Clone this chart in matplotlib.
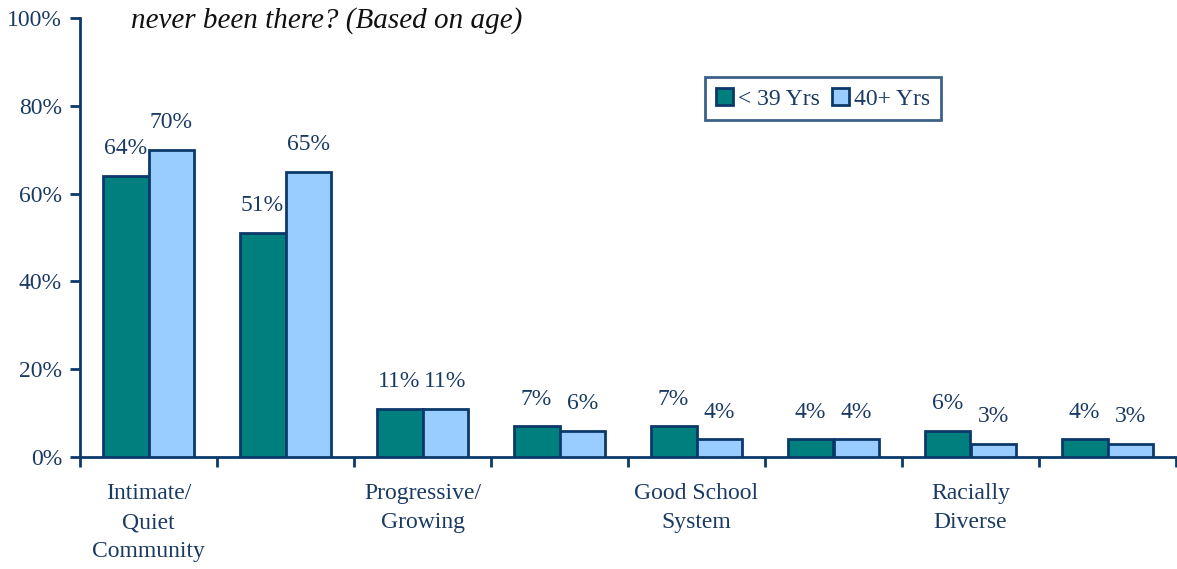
import matplotlib
matplotlib.use("Agg")
import matplotlib.pyplot as plt
import numpy as np

categories = ["Intimate/\nQuiet\nCommunity", "", "Progressive/\nGrowing", "",
              "Good School\nSystem", "", "Racially\nDiverse", ""]
young = [64, 51, 11, 7, 7, 4, 6, 4]
older = [70, 65, 11, 6, 4, 4, 3, 3]
series_names = ["< 39 Yrs", "40+ Yrs"]
yticks = [0, 20, 40, 60, 80, 100]
title = "never been there? (Based on age)"

navy = "#0B3A6A"
txt = "#1B3A63"
teal = "#007F7F"
light = "#99CCFF"

plt.rcParams['font.family'] = ['Liberation Serif', 'DejaVu Serif']

fig = plt.figure(figsize=(11.77, 5.69), dpi=100)
ax = fig.add_axes([80/1177, 1-457/569, 1096/1177, 439/569])

x = np.arange(len(categories))
w = 0.335
b1 = ax.bar(x - w/2, young, w, color=teal, edgecolor=navy, linewidth=2, label=series_names[0], zorder=3)
b2 = ax.bar(x + w/2, older, w, color=light, edgecolor=navy, linewidth=2, label=series_names[1], zorder=3)

for bars, vals in ((b1, young), (b2, older)):
    for r, v in zip(bars, vals):
        ax.annotate(f"{v}%", (r.get_x() + r.get_width()/2, r.get_height()),
                    xytext=(0, 12), textcoords="offset points", ha="center", va="bottom",
                    fontsize=17, color=txt)

ax.set_xlim(-0.5, len(categories) - 0.5)
ax.set_ylim(0, 100)
ax.set_yticks(yticks)
ax.set_yticklabels([f"{t}%" for t in yticks], fontsize=17, color=txt)
ax.set_xticks(x)
ax.set_xticklabels(categories, fontsize=17, color=txt, linespacing=1.5)
ax.tick_params(axis="x", length=0, pad=19)
ax.set_xticks(np.arange(-0.5, len(categories), 1), minor=True)
ax.tick_params(axis="x", which="minor", length=7, width=2, color=navy, direction="out")
ax.tick_params(axis="y", length=7, width=2, color=navy, direction="out", pad=6)

for s in ("top", "right"):
    ax.spines[s].set_visible(False)
for s in ("left", "bottom"):
    ax.spines[s].set_color(navy)
    ax.spines[s].set_linewidth(2)

leg = ax.legend(loc="upper left", bbox_to_anchor=(625/1096, 1-59/439), ncol=2, frameon=True,
                fancybox=False, fontsize=17, handlelength=0.75, handleheight=0.75,
                handletextpad=0.2, columnspacing=0.5, borderpad=0.45, borderaxespad=0)
leg.get_frame().set_edgecolor(navy)
leg.get_frame().set_linewidth(2)
for t in leg.get_texts():
    t.set_color(txt)

fig.text(327/1177, 1-21/569, title, ha="center", va="center", fontsize=21,
         style="italic", color="#111111")

fig.savefig("out.png", dpi=100)
